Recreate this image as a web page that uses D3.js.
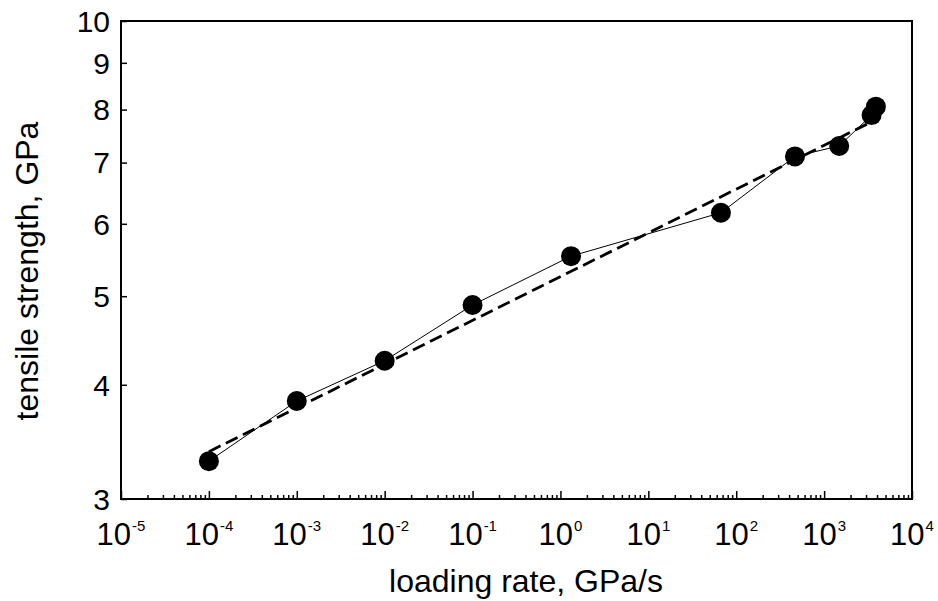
<!DOCTYPE html>
<html>
<head>
<meta charset="utf-8">
<script src="https://cdn.jsdelivr.net/npm/d3@7"></script>
<style>
  html, body { margin: 0; padding: 0; background: #fff; }
  svg { display: block; font-family: "Liberation Sans", Arial, sans-serif; }
</style>
</head>
<body>
<svg id="chart" width="938" height="601"></svg>
<script>
// Loading rate (GPa/s) and measured tensile strength (GPa)
const loadingRate = [1e-4, 1e-3, 1e-2, 0.1, 1.32, 67, 466, 1486, 3467, 3882];
const strength    = [3.30, 3.84, 4.25, 4.89, 5.53, 6.17, 7.11, 7.30, 7.89, 8.06];

// Power-law fit, drawn as a straight segment on log-log axes
const fitRate     = [1e-4, 3882];
const fitStrength = [3.38, 7.80];

// Axis ticks
const xTickExponents = [-5, -4, -3, -2, -1, 0, 1, 2, 3, 4];
const yTickValues    = [3, 4, 5, 6, 7, 8, 9, 10];

const xLabel = "loading rate, GPa/s";
const yLabel = "tensile strength, GPa";

const svg = d3.select("#chart");
const plotLeft = 121, plotRight = 912, plotTop = 21, plotBottom = 499;

const x = d3.scaleLog().domain([1e-5, 1e4]).range([plotLeft, plotRight]);
const y = d3.scaleLog().domain([3, 10]).range([plotBottom, plotTop]);

// Minor x ticks (2..9 in each decade)
const majorX = xTickExponents.map(e => Math.pow(10, e));
const minorX = [];
xTickExponents.slice(0, -1).forEach(e => {
  for (let k = 2; k <= 9; k++) minorX.push(k * Math.pow(10, e));
});

const axisStyle = g => {
  g.select(".domain").remove();
  g.selectAll(".tick line").attr("stroke", "#000").attr("stroke-width", 1.5);
  g.selectAll(".tick text").remove();
};

svg.append("g")
  .attr("transform", `translate(0,${plotBottom})`)
  .call(d3.axisBottom(x).tickValues(minorX).tickSize(-4).tickFormat(""))
  .call(axisStyle);

svg.append("g")
  .attr("transform", `translate(0,${plotBottom})`)
  .call(d3.axisBottom(x).tickValues(majorX).tickSize(-8).tickFormat(""))
  .call(axisStyle);

svg.append("g")
  .attr("transform", `translate(${plotLeft},0)`)
  .call(d3.axisLeft(y).tickValues(yTickValues).tickSize(-6).tickFormat(""))
  .call(axisStyle);

// Frame
svg.append("rect")
  .attr("x", plotLeft).attr("y", plotTop)
  .attr("width", plotRight - plotLeft).attr("height", plotBottom - plotTop)
  .attr("fill", "none").attr("stroke", "#000").attr("stroke-width", 2);

// X tick labels as powers of ten
const xt = svg.append("g").selectAll("text")
  .data(xTickExponents)
  .join("text")
  .attr("x", e => x(Math.pow(10, e)))
  .attr("y", 545)
  .attr("text-anchor", "middle")
  .attr("font-size", 31)
  .attr("fill", "#000");
xt.append("tspan").text("10");
xt.append("tspan")
  .attr("font-size", 15)
  .attr("dy", -14)
  .attr("dx", 1)
  .text(e => String(e));

// Y tick labels
svg.append("g").selectAll("text")
  .data(yTickValues)
  .join("text")
  .attr("x", 110)
  .attr("y", d => y(d))
  .attr("dy", "0.36em")
  .attr("text-anchor", "end")
  .attr("font-size", 30)
  .attr("fill", "#000")
  .text(d => d);

// Axis titles
svg.append("text")
  .attr("x", 526).attr("y", 592)
  .attr("text-anchor", "middle")
  .attr("font-size", 32)
  .attr("fill", "#000")
  .text(xLabel);

svg.append("text")
  .attr("transform", `translate(38,271) rotate(-90)`)
  .attr("text-anchor", "middle")
  .attr("font-size", 32)
  .attr("fill", "#000")
  .text(yLabel);

// Fit line (dashed)
const fitPts = fitRate.map((r, i) => [r, fitStrength[i]]);
const line = d3.line().x(d => x(d[0])).y(d => y(d[1]));
svg.append("path")
  .attr("d", line(fitPts))
  .attr("fill", "none")
  .attr("stroke", "#000")
  .attr("stroke-width", 2.8)
  .attr("stroke-dasharray", "13,6");

// Data connected by a thin line
const pts = loadingRate.map((r, i) => [r, strength[i]]);
svg.append("path")
  .attr("d", line(pts))
  .attr("fill", "none")
  .attr("stroke", "#000")
  .attr("stroke-width", 1);

svg.append("g").selectAll("circle")
  .data(pts)
  .join("circle")
  .attr("cx", d => x(d[0]))
  .attr("cy", d => y(d[1]))
  .attr("r", 10)
  .attr("fill", "#000");
</script>
</body>
</html>
